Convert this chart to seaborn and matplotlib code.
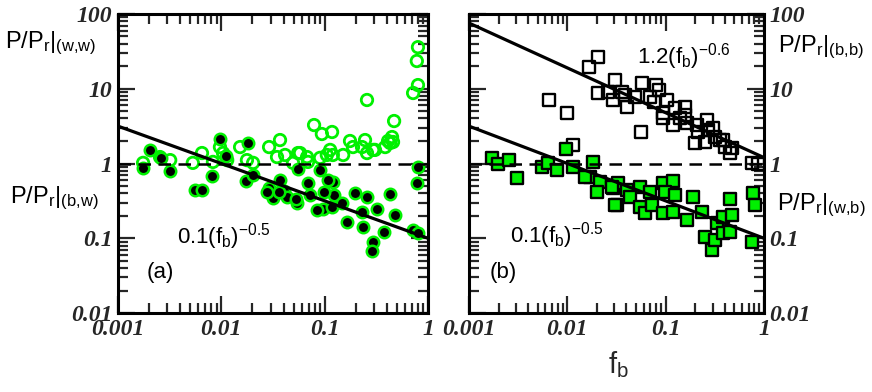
import numpy as np
import pandas as pd
import matplotlib
matplotlib.use("Agg")
import matplotlib.pyplot as plt
import seaborn as sns
from matplotlib.ticker import LogLocator, FixedLocator, NullFormatter

# panel (a): black-filled circles, P/Pr|(b,w)
bw_x = [0.00175, 0.00204, 0.0026, 0.0032, 0.0056, 0.0065, 0.0081, 0.0097, 0.0111, 0.0181,
        0.0173, 0.0203, 0.029, 0.037, 0.0316, 0.0405, 0.0553, 0.090, 0.069, 0.054,
        0.0433, 0.072, 0.0966, 0.0844, 0.0277, 0.12, 0.123, 0.099, 0.118, 0.147,
        0.165, 0.197, 0.23, 0.257, 0.235, 0.321, 0.294, 0.288, 0.376, 0.43,
        0.48, 0.718, 0.80, 0.80, 0.78, 0.108, 0.036, 0.053]
bw_y = [0.87, 1.52, 1.19, 0.79, 0.44, 0.44, 0.68, 2.13, 1.26, 1.88,
        0.58, 0.70, 0.47, 0.60, 0.345, 0.43, 0.84, 0.82, 0.55, 0.30,
        0.356, 0.38, 0.246, 0.24, 0.416, 0.57, 0.38, 0.416, 0.26, 0.30,
        0.165, 0.40, 0.224, 0.356, 0.141, 0.246, 0.089, 0.068, 0.121, 0.39,
        0.205, 0.129, 0.117, 0.90, 0.55, 0.60, 0.416, 0.335]

# panel (a): open green circles, P/Pr|(w,w)
ww_x = [0.00175, 0.00255, 0.0032, 0.0053, 0.0065, 0.0083, 0.0097, 0.0114, 0.0152, 0.0177,
        0.0203, 0.029, 0.037, 0.0346, 0.0414, 0.0553, 0.0494, 0.079, 0.094, 0.118,
        0.0676, 0.0903, 0.12, 0.151, 0.176, 0.188, 0.23, 0.246, 0.257, 0.257,
        0.307, 0.385, 0.411, 0.449, 0.459, 0.47, 0.718, 0.80, 0.78, 0.80,
        0.113, 0.294, 0.43, 0.105, 0.0104, 0.069, 0.0578]
ww_y = [1.02, 1.22, 1.11, 1.02, 1.38, 1.05, 1.66, 1.11, 1.66, 1.11,
        1.02, 1.66, 2.06, 1.22, 1.30, 1.38, 1.02, 3.27, 2.48, 2.64,
        1.22, 1.19, 1.30, 1.30, 2.0, 1.66, 1.66, 2.06, 7.07, 1.38,
        1.52, 1.66, 2.0, 2.26, 1.94, 3.7, 8.77, 11.2, 23.5, 36,
        1.52, 1.52, 1.88, 1.30, 1.38, 1.05, 1.38]

# panel (b): open black squares, P/Pr|(b,b)
bb_x = [0.0166, 0.0205, 0.0306, 0.0205, 0.0292, 0.0386, 0.0405, 0.0065, 0.0099, 0.0575,
        0.0562, 0.0114, 0.080, 0.0857, 0.0694, 0.0762, 0.103, 0.094, 0.125, 0.119,
        0.157, 0.157, 0.165, 0.208, 0.264, 0.214, 0.199, 0.252, 0.303, 0.318,
        0.384, 0.402, 0.473, 0.452, 0.757, 0.871, 0.026, 0.036, 0.0489, 0.094,
        0.14, 0.27, 0.357]
bb_y = [19.5, 26.6, 13.1, 8.77, 7.07, 8.25, 5.7, 7.07, 4.74, 11.9,
        2.64, 1.77, 11.2, 9.6, 7.76, 6.65, 7.07, 4.74, 5.52, 3.27,
        5.7, 4.46, 3.48, 3.27, 3.82, 2.64, 1.88, 1.94, 2.99, 2.26,
        2.06, 1.66, 1.61, 1.38, 1.02, 0.98, 9.05, 9.05, 7.76, 4.06,
        4.06, 2.81, 2.06]

# panel (b): green filled squares, P/Pr|(w,b)
wb_x = [0.00171, 0.00197, 0.00255, 0.00308, 0.00553, 0.00636, 0.00786, 0.0097, 0.0114, 0.0182,
        0.017, 0.0215, 0.0292, 0.0328, 0.0405, 0.055, 0.0694, 0.094, 0.119, 0.19,
        0.452, 0.774, 0.02, 0.032, 0.0285, 0.0434, 0.055, 0.0617, 0.0727, 0.094,
        0.0986, 0.125, 0.119, 0.165, 0.234, 0.252, 0.297, 0.318, 0.333, 0.384,
        0.473, 0.384, 0.452, 0.757, 0.811, 0.0151, 0.0306]
wb_y = [1.19, 0.98, 1.11, 0.64, 0.90, 1.02, 0.82, 1.56, 0.90, 1.05,
        0.66, 0.57, 0.47, 0.55, 0.44, 0.485, 0.416, 0.55, 0.58, 0.356,
        0.335, 0.40, 0.416, 0.279, 0.485, 0.356, 0.26, 0.218, 0.279, 0.218,
        0.416, 0.38, 0.224, 0.175, 0.224, 0.104, 0.07, 0.095, 0.16, 0.192,
        0.205, 0.117, 0.121, 0.089, 0.279, 0.66, 0.279]

# power-law fits
fit_x = [0.001, 1.0]
fit_a_y = [0.1 * x ** -0.5 for x in fit_x]
fit_b_y = [1.2 * x ** -0.6 for x in fit_x]

x_ticks = [0.001, 0.01, 0.1, 1]
x_tick_labels = ["0.001", "0.01", "0.1", "1"]
y_ticks = [0.01, 0.1, 1, 10, 100]
y_tick_labels = ["0.01", "0.1", "1", "10", "100"]

green = "#00f000"

sns.set_style("white")
plt.rcParams["font.family"] = ["Liberation Sans", "DejaVu Sans"]
plt.rcParams["mathtext.default"] = "regular"

fig = plt.figure(figsize=(8.72, 3.92), dpi=100)
ax1 = fig.add_axes([0.1353, 0.2015, 0.3555, 0.7628])
ax2 = fig.add_axes([0.5378, 0.2015, 0.3383, 0.7628])

tick_font = dict(family="Liberation Serif", weight="bold", style="italic", size=17)

for ax in (ax1, ax2):
    ax.set_xscale("log")
    ax.set_yscale("log")
    ax.set_xlim(0.001, 1)
    ax.set_ylim(0.01, 100)
    for s in ax.spines.values():
        s.set_linewidth(2.2)
        s.set_color("black")
    ax.xaxis.set_major_locator(FixedLocator(x_ticks))
    ax.yaxis.set_major_locator(FixedLocator(y_ticks))
    ax.xaxis.set_minor_locator(LogLocator(base=10, subs=np.arange(2, 10)))
    ax.yaxis.set_minor_locator(LogLocator(base=10, subs=np.arange(2, 10)))
    ax.xaxis.set_minor_formatter(NullFormatter())
    ax.yaxis.set_minor_formatter(NullFormatter())
    ax.tick_params(which="major", direction="in", length=12, width=1.6,
                   top=True, bottom=True, left=True, right=True, pad=4)
    ax.tick_params(which="minor", direction="in", length=7, width=1.6,
                   top=True, bottom=True, left=True, right=True)
    ax.set_xticklabels(x_tick_labels, fontdict=tick_font)
    ax.set_yticklabels(y_tick_labels, fontdict=tick_font)
    ax.axhline(1, color="black", lw=1.8, ls=(0, (5, 3)), zorder=4)

ax2.tick_params(labelleft=False, labelright=True)

# panel (a)
sns.scatterplot(x=ww_x, y=ww_y, ax=ax1, marker="o", s=68, facecolors="none",
                edgecolor=green, linewidth=2.0, zorder=2)
sns.scatterplot(x=bw_x, y=bw_y, ax=ax1, marker="o", s=68, color="black",
                edgecolor=green, linewidth=1.8, zorder=3)
ax1.plot(fit_x, fit_a_y, color="black", lw=2.3, zorder=5)

# panel (b)
sns.scatterplot(x=bb_x, y=bb_y, ax=ax2, marker="s", s=78, facecolors="none",
                edgecolor="black", linewidth=1.7, zorder=2)
sns.scatterplot(x=wb_x, y=wb_y, ax=ax2, marker="s", s=78, color=green,
                edgecolor="black", linewidth=1.7, zorder=3)
ax2.plot(fit_x, fit_b_y, color="black", lw=2.3, zorder=5)
ax2.plot(fit_x, fit_a_y, color="black", lw=2.3, zorder=5)

for ax in (ax1, ax2):
    ax.set_xlim(0.001, 1)
    ax.set_ylim(0.01, 100)

txt = dict(fontsize=16, color="black")
ax1.text(0.19, 0.234, r"$0.1(f_b)^{-0.5}$", transform=ax1.transAxes, **txt)
ax1.text(0.094, 0.117, "(a)", transform=ax1.transAxes, **txt)
ax2.text(0.139, 0.237, r"$0.1(f_b)^{-0.5}$", transform=ax2.transAxes, **txt)
ax2.text(0.57, 0.836, r"$1.2(f_b)^{-0.6}$", transform=ax2.transAxes, **txt)
ax2.text(0.071, 0.117, "(b)", transform=ax2.transAxes, **txt)

lab = dict(fontsize=17, color="black")
fig.text(0.006, 0.878, r"$P/P_r|_{(w{,}w)}$", **lab)
fig.text(0.012, 0.482, r"$P/P_r|_{(b{,}w)}$", **lab)
fig.text(0.892, 0.867, r"$P/P_r|_{(b{,}b)}$", **lab)
fig.text(0.891, 0.464, r"$P/P_r|_{(w{,}b)}$", **lab)
fig.text(0.709, 0.048, r"$f_b$", fontsize=21, ha="center")

fig.savefig("out.png", dpi=100)
